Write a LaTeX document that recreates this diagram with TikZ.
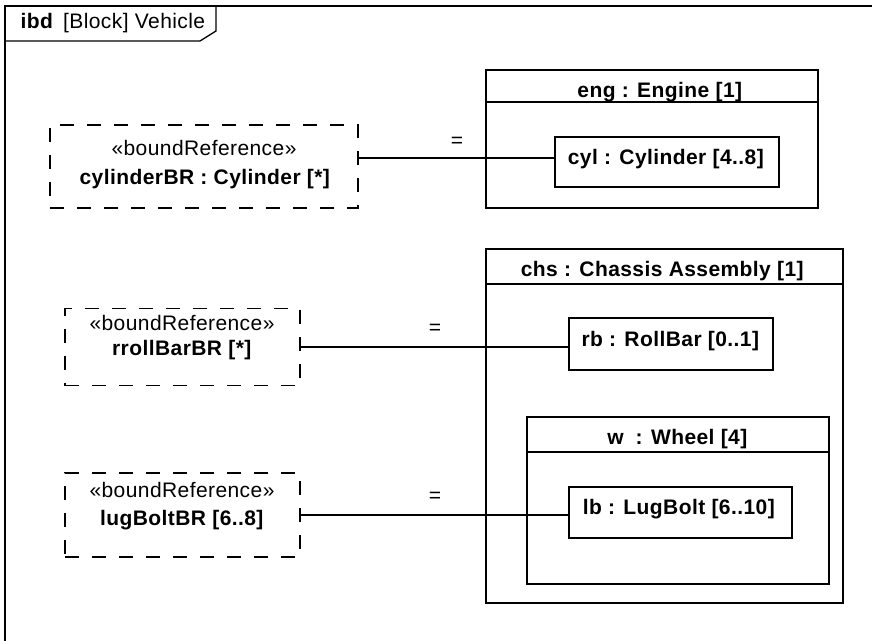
\documentclass[tikz,border=0pt]{standalone}
\usepackage{fontspec}
\setmainfont{Liberation Sans}[LetterSpace=2]
\begin{document}
\begin{tikzpicture}[x=1pt,y=-1pt, line width=1.3pt,
  every node/.style={font=\fontsize{21}{24}\selectfont, inner sep=0pt},
  blk/.style={draw, rectangle},
  bref/.style={draw, rectangle, dash pattern=on 14pt off 13pt},
  lbl/.style={anchor=base},
  eqs/.style={anchor=center}]
\useasboundingbox (0,0) rectangle (872,640);
\begin{scope}
  \clip (0,0) rectangle (872,640);
  \draw (5,6) rectangle (900,700);
\end{scope}
\draw (5,41) -- (200,41) -- (216,31) -- (216,6);
\node[anchor=base west] (hdr) at (20,28) {\textbf{ibd}\, [Block] Vehicle};

% Engine
\node[blk, minimum width=332pt, minimum height=138pt] (eng) at (652,139) {};
\draw (eng.west |- 0,102) -- (eng.east |- 0,102);
\node[lbl] (engt) at (660,97) {\textbf{eng : Engine [1]}};
\node[blk, minimum width=224pt, minimum height=50pt] (cyl) at (667,162) {};
\node[lbl] (cylt) at (666,164) {\textbf{cyl : Cylinder [4..8]}};

% Chassis
\node[blk, minimum width=357pt, minimum height=354pt] (chs) at (664.5,426) {};
\draw (chs.west |- 0,284) -- (chs.east |- 0,284);
\node[lbl] (chst) at (662.5,276) {\textbf{chs : Chassis Assembly [1]}};
\node[blk, minimum width=204pt, minimum height=52pt] (rb) at (671,344) {};
\node[lbl] (rbt) at (670.5,346) {\textbf{rb : RollBar [0..1]}};
\node[blk, minimum width=302pt, minimum height=167pt] (w) at (678,500.5) {};
\draw (w.west |- 0,452) -- (w.east |- 0,452);
\node[lbl] (wt) at (677.5,444) {\textbf{w\; : Wheel [4]}};
\node[blk, minimum width=223pt, minimum height=51pt] (lb) at (680.5,512.5) {};
\node[lbl] (lbt) at (679,514) {\textbf{lb : LugBolt [6..10]}};

% bound references
\node[bref, minimum width=308pt, minimum height=83pt] (b1) at (204,166.5) {};
\node[lbl] (b1s) at (204,155) {«boundReference»};
\node[lbl] (b1n) at (205,184) {\textbf{cylinderBR : Cylinder [*]}};
\node[bref, minimum width=235pt, minimum height=77pt] (b2) at (182.5,347) {};
\node[lbl] (b2s) at (182,330) {«boundReference»};
\node[lbl] (b2n) at (182,355) {\textbf{rrollBarBR [*]}};
\node[bref, minimum width=235pt, minimum height=84pt] (b3) at (182.5,515) {};
\node[lbl] (b3s) at (182,497) {«boundReference»};
\node[lbl] (b3n) at (182,525) {\textbf{lugBoltBR [6..8]}};

% connectors
\draw ([yshift=4pt]cyl.west) -- ([yshift=4pt]cyl.west -| b1.east);
\draw (b2.east) -- (b2.east -| rb.west);
\draw (b3.east) -- (b3.east -| lb.west);
\node[eqs] (e1) at (457,142) {=};
\node[eqs] (e2) at (435,329) {=};
\node[eqs] (e3) at (435,497) {=};
\end{tikzpicture}
\end{document}
